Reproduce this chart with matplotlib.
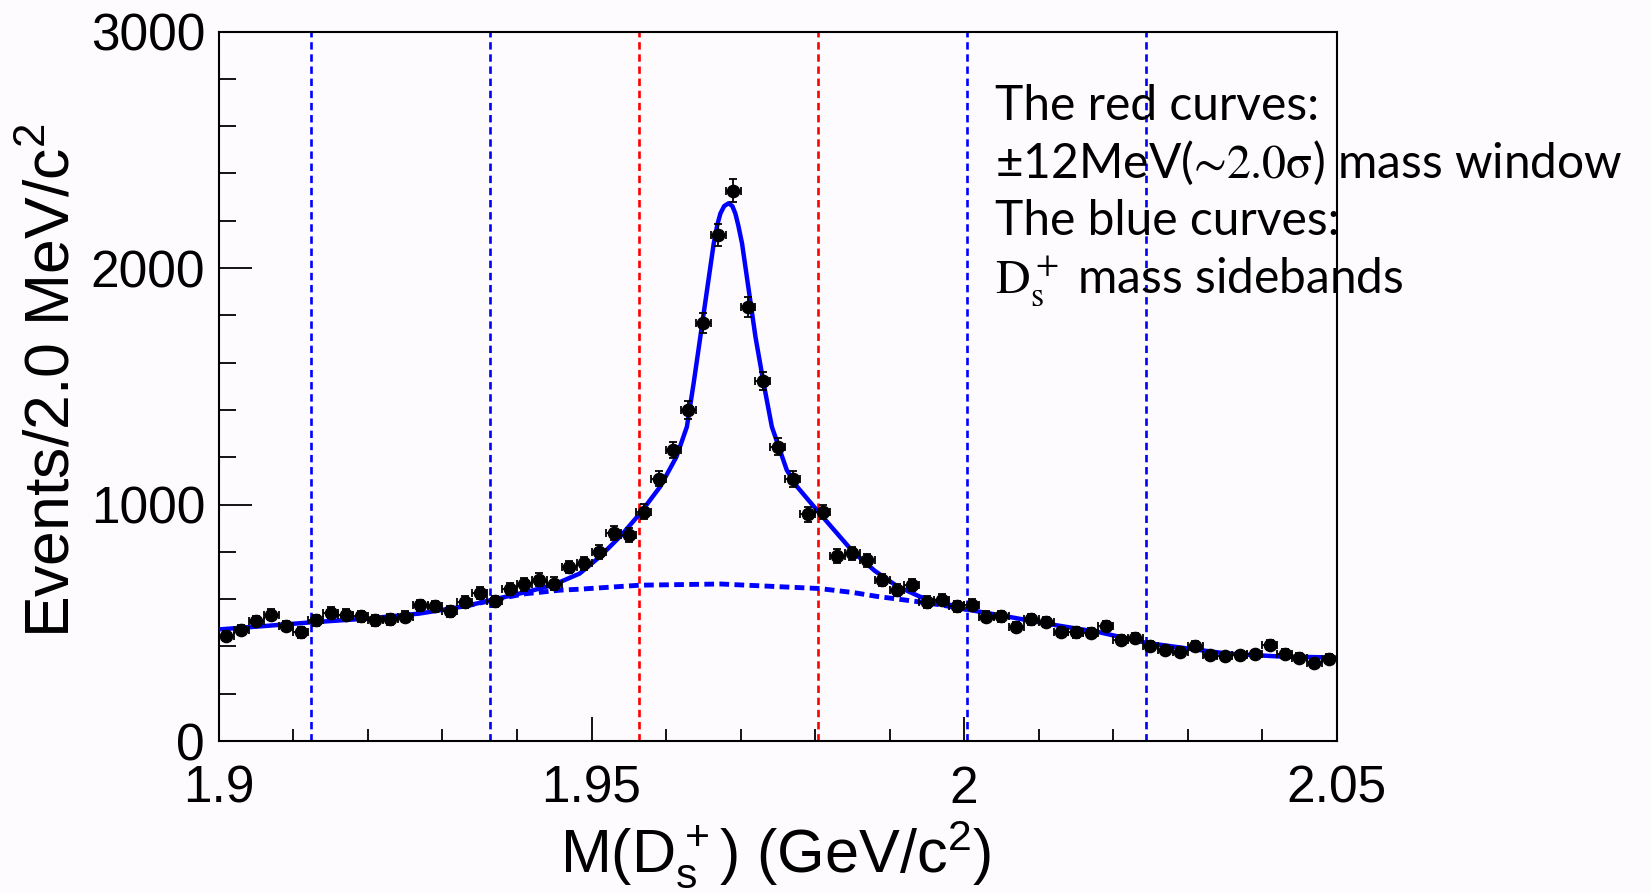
import matplotlib.pyplot as plt
import numpy as np
from matplotlib.ticker import MultipleLocator, StrMethodFormatter

plt.rcParams['font.family'] = ['Liberation Sans', 'DejaVu Sans']

# histogram: events per 2 MeV bin from 1.900 to 2.050 GeV
bin_lo = 1.900
bin_w = 0.002
counts = [443, 469, 508, 535, 487, 459, 511, 543, 535, 528,
          511, 515, 525, 574, 570, 549, 588, 627, 591, 641,
          662, 683, 666, 736, 751, 800, 878, 871, 970, 1110,
          1230, 1399, 1769, 2140, 2327, 1836, 1523, 1244, 1108, 958,
          969, 782, 793, 765, 680, 638, 661, 588, 598, 570,
          577, 525, 528, 483, 514, 504, 461, 459, 455, 486,
          426, 436, 401, 384, 377, 401, 363, 359, 363, 366,
          405, 370, 353, 328, 349]

# total fit curve
fit_mass = [1.9000, 1.9060, 1.9120, 1.9200, 1.9269, 1.9330, 1.9378, 1.9420,
            1.9450, 1.9484, 1.9511, 1.9540, 1.9565, 1.9592, 1.9614, 1.9628,
            1.9637, 1.9646, 1.9655, 1.9664, 1.9669, 1.9673, 1.9678, 1.9684,
            1.9689, 1.9693, 1.9697, 1.9702, 1.9711, 1.9720, 1.9731, 1.9742,
            1.9762, 1.9776, 1.9805, 1.9851, 1.9880, 1.9910, 1.9941, 2.0004,
            2.0048, 2.0115, 2.0180, 2.0245, 2.0303, 2.0353, 2.0420, 2.0500]
fit_total = [472, 486, 501, 518, 539, 570, 605, 636,
             662, 708, 779, 870, 962, 1075, 1202, 1329,
             1512, 1709, 1907, 2104, 2185, 2231, 2262, 2274,
             2262, 2231, 2180, 2104, 1907, 1709, 1512, 1329,
             1146, 1075, 967, 800, 720, 655, 610, 556,
             532, 494, 461, 415, 390, 370, 358, 353]

# background component (dashed)
bkg_mass = [1.9330, 1.9378, 1.9409, 1.9458, 1.9484, 1.9565, 1.9673, 1.9805,
            1.9851, 1.9882, 1.9941, 1.9970, 2.0004]
bkg_vals = [570, 603, 622, 638, 642, 659, 664, 645,
            628, 612, 588, 575, 556]

sideband_lines = [1.9124, 1.9364, 2.0004, 2.0244]
window_lines = [1.9564, 1.9804]

bg = '#fdfbfd'
fig = plt.figure(figsize=(16.5, 8.94), dpi=100, facecolor=bg)
ax = fig.add_axes([0.1327, 0.1711, 0.6774, 0.7936])
ax.set_facecolor(bg)

# mass window / sideband markers
for x in sideband_lines:
    ax.axvline(x, color='#0000ff', lw=1.9, ls=(0, (2.8, 1.8)), zorder=1)
for x in window_lines:
    ax.axvline(x, color='#ff0000', lw=1.9, ls=(0, (2.8, 1.8)), zorder=1)

ax.plot(bkg_mass, bkg_vals, color='#0000ff', lw=3.5, ls=(0, (2.0, 1.1)), zorder=2)
ax.plot(fit_mass, fit_total, color='#0000ff', lw=3.2, zorder=3)

counts = np.array(counts)
centers = bin_lo + bin_w * (np.arange(len(counts)) + 0.5)
ax.errorbar(centers, counts, xerr=bin_w / 2, yerr=np.sqrt(counts), fmt='o',
            color='black', ms=8.8, elinewidth=1.3, capsize=3, capthick=1.3,
            zorder=4)

ax.set_xlim(1.9, 2.05)
ax.set_ylim(0, 3000)
ax.xaxis.set_major_locator(MultipleLocator(0.05))
ax.xaxis.set_minor_locator(MultipleLocator(0.01))
ax.yaxis.set_major_locator(MultipleLocator(1000))
ax.yaxis.set_minor_locator(MultipleLocator(200))
ax.xaxis.set_major_formatter(StrMethodFormatter('{x:g}'))

ax.tick_params(which='both', direction='in', top=False, right=False)
ax.tick_params(axis='y', which='major', length=24, width=1.3, labelsize=37, pad=10)
ax.tick_params(axis='y', which='minor', length=12, width=1.3)
ax.tick_params(axis='x', which='major', length=17, width=1.3, labelsize=37, pad=17)
ax.tick_params(axis='x', which='minor', length=8.5, width=1.3)
for s in ax.spines.values():
    s.set_linewidth(1.5)

fig.text(0.0319, 0.5738, r'Events/2.0 MeV/$\mathregular{c^2}$', rotation=90,
         ha='center', va='center', fontsize=45)
fig.text(0.470, 0.0246, r'M($\mathregular{D_s^+}$) (GeV/$\mathregular{c^2}$)',
         ha='center', va='baseline', fontsize=44)

# note on the right
note_x = 0.6028
note_kw = dict(ha='left', va='baseline', fontsize=34.5, family=['Lato', 'DejaVu Sans'],
               math_fontfamily='stix')
fig.text(note_x, 0.8658, 'The red curves:', **note_kw)
fig.text(note_x, 0.8009, r'±12MeV($\mathrm{∼2.0σ}$) mass window', **note_kw)
fig.text(note_x, 0.7371, 'The blue curves:', **note_kw)
fig.text(note_x, 0.6723, r'$\mathrm{D_s^+}$ mass sidebands', **note_kw)

fig.savefig('out.png', dpi=100, facecolor=bg)
